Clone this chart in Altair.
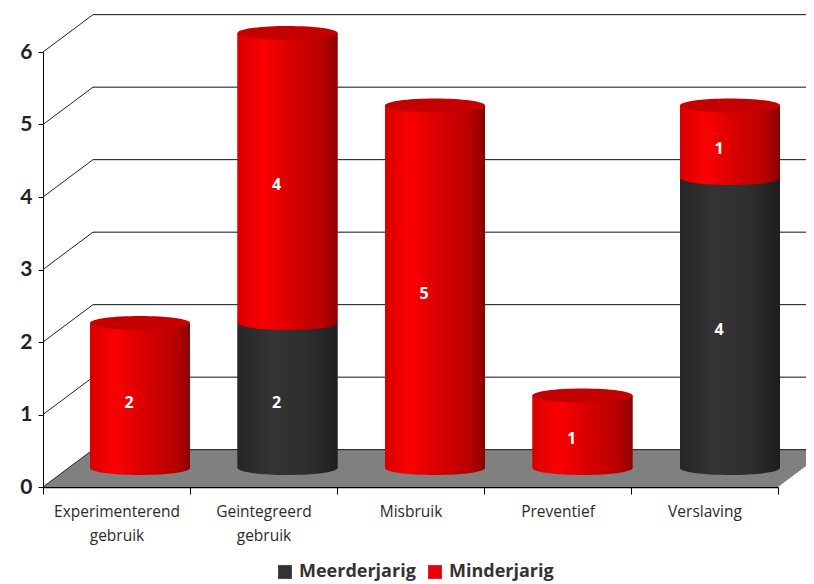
import altair as alt
import pandas as pd

categories = ["Experimenterend gebruik", "Geintegreerd gebruik", "Misbruik", "Preventief", "Verslaving"]
meerderjarig = [0, 2, 0, 0, 4]
minderjarig = [2, 4, 5, 1, 1]
levels = [0, 1, 2, 3, 4, 5, 6]

FONT = "Open Sans"
DEPTH_X, DEPTH_Y = 0.34, 0.515

rows = []
for c, m, n in zip(categories, meerderjarig, minderjarig):
    if m:
        rows.append(dict(cat=c, serie="Meerderjarig", start=0, end=m, val=m, total=m + n))
    if n:
        rows.append(dict(cat=c, serie="Minderjarig", start=m, end=m + n, val=n, total=m + n))
df = pd.DataFrame(rows)
df["mid"] = (df.start + df.end) / 2
dark = df[df.serie == "Meerderjarig"]
red = df[df.serie == "Minderjarig"]

front_y = alt.Scale(domain=[0, 6], range=[479, 44])
bar_y = alt.Scale(domain=[0, 6], range=[460, 25])
line_x = alt.Scale(domain=[0, 5], range=[0, 735])
axis_x = alt.Scale(domain=categories, range=[0, 735], paddingInner=0, paddingOuter=0)
bar_x = alt.Scale(domain=categories, range=[23.25, 760.75], paddingInner=0, paddingOuter=0)

def grad(stops):
    return alt.Gradient(gradient="linear", x1=0, x2=1, y1=0, y2=0,
                        stops=[alt.GradientStop(offset=o, color=c) for o, c in stops])

RED = grad([(0, "#d80000"), (0.25, "#fb0000"), (0.55, "#d80000"), (0.85, "#b80000"), (1, "#8c0000")])
DARK = grad([(0, "#262626"), (0.35, "#343434"), (0.7, "#2e2e2e"), (1, "#1e1e1e")])
ELLIPSE = "M-1,0A1,0.14,0,1,1,1,0A1,0.14,0,1,1,-1,0Z"

floor = pd.DataFrame({
    "x": [0, DEPTH_X, 5, 5 + DEPTH_X],
    "low": [0, 0, 0, DEPTH_Y],
    "top": [0, DEPTH_Y, DEPTH_Y, DEPTH_Y],
})
floor_layer = alt.Chart(floor).mark_area(color="#808080").encode(
    x=alt.X("x:Q", scale=line_x, axis=None),
    y=alt.Y("top:Q", scale=front_y, axis=None),
    y2="low:Q",
)

wall = pd.DataFrame({"level": levels})
wall["back"] = wall.level + DEPTH_Y
wall["x1"] = DEPTH_X
wall["x2"] = 5.5
wall_layer = alt.Chart(wall).mark_rule(color="#111111", strokeWidth=1).encode(
    x=alt.X("x1:Q", scale=line_x, axis=None),
    x2="x2:Q",
    y=alt.Y("back:Q", scale=front_y, axis=None),
)

diag_rows = []
for v in levels:
    diag_rows.append(dict(level=v, x=0, y=v))
    diag_rows.append(dict(level=v, x=DEPTH_X, y=v + DEPTH_Y))
diag_layer = alt.Chart(pd.DataFrame(diag_rows)).mark_line(color="#222222", strokeWidth=1).encode(
    x=alt.X("x:Q", scale=line_x, axis=None),
    y=alt.Y("y:Q", scale=front_y, axis=None),
    detail="level:N",
)

axis_layer = alt.Chart(pd.DataFrame({"cat": categories, "v": [0, 0, 0, 0, 0]})).mark_rule(opacity=0).encode(
    x=alt.X("cat:N", scale=axis_x, sort=categories, axis=alt.Axis(
        title=None, labelAngle=0, tickBand="extent", tickSize=7, tickColor="#000000",
        domainColor="#000000", domainWidth=1.5, labelFont=FONT, labelFontSize=15.5, labelColor="#2a2a2a",
        labelPadding=10, labelExpr="split(datum.label, ' ')", labelLineHeight=24, grid=False,
    )),
    y=alt.Y("v:Q", scale=front_y, axis=alt.Axis(
        title=None, values=levels, tickSize=5, tickColor="#000000", domainColor="#000000",
        labelFont="Lato", labelFontSize=21, labelFontWeight="bold", labelColor="#222222",
        labelPadding=6, grid=False, format="d",
    )),
)

def bars(data, **mark):
    return alt.Chart(data).mark_bar(size=100, **mark).encode(
        x=alt.X("cat:N", scale=bar_x, sort=categories, axis=None),
        y=alt.Y("start:Q", scale=bar_y, axis=None),
        y2="end:Q",
    )

def ellipses(data, field, fill):
    return alt.Chart(data).mark_point(shape=ELLIPSE, size=10000, filled=True, fill=fill, opacity=1, strokeWidth=0).encode(
        x=alt.X("cat:N", scale=bar_x, sort=categories, axis=None),
        y=alt.Y(f"{field}:Q", scale=bar_y, axis=None),
    )

legend_layer = alt.Chart(df).mark_bar(size=100).encode(
    x=alt.X("cat:N", scale=bar_x, sort=categories, axis=None),
    y=alt.Y("start:Q", scale=bar_y, axis=None),
    y2="end:Q",
    color=alt.Color("serie:N", scale=alt.Scale(domain=["Meerderjarig", "Minderjarig"], range=["#333333", "#e8000c"]),
                    legend=alt.Legend(title=None, orient="none", legendX=233, legendY=555, direction="horizontal",
                                      symbolType="square", symbolSize=190, symbolStrokeWidth=0,
                                      labelFont=FONT, labelFontSize=18, labelFontWeight="bold", labelColor="#333333",
                                      columnPadding=10, labelOffset=5)),
)

labels = alt.Chart(df).mark_text(color="white", font=FONT, fontSize=16, fontWeight="bold", dx=-11, dy=7).encode(
    x=alt.X("cat:N", scale=bar_x, sort=categories, axis=None),
    y=alt.Y("mid:Q", scale=bar_y, axis=None),
    text="val:Q",
)

chart = alt.layer(
    floor_layer, wall_layer, diag_layer, axis_layer,
    legend_layer,
    ellipses(dark, "start", DARK), bars(dark, color=DARK),
    ellipses(red, "start", RED), bars(red, color=RED),
    ellipses(red, "end", "#c40000"),
    labels,
).resolve_scale(x="independent", y="independent").properties(
    width=735, height=479,
    padding={"left": 35, "top": 0, "right": 28, "bottom": 97},
    autosize="none",
).configure_view(stroke=None)

chart.save("out.html", embed_options={"renderer": "svg", "actions": False})
